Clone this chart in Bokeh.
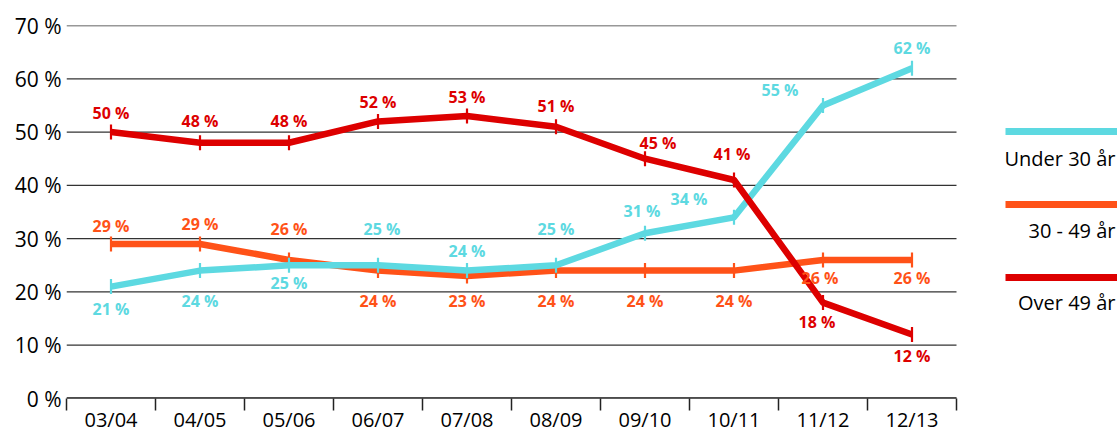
import math
from bokeh.plotting import figure
from bokeh.models import ColumnDataSource, FixedTicker, Range1d
from bokeh.core.properties import value
from bokeh.embed import file_html
from bokeh.resources import INLINE

# ---- data ----
seasons = ["03/04", "04/05", "05/06", "06/07", "07/08", "08/09", "09/10", "10/11", "11/12", "12/13"]
under30 = [21, 24, 25, 25, 24, 25, 31, 34, 55, 62]
age30_49 = [29, 29, 26, 24, 23, 24, 24, 24, 26, 26]
over49 = [50, 48, 48, 52, 53, 51, 45, 41, 18, 12]
series_names = ["Under 30 år", "30 - 49 år", "Over 49 år"]
y_ticks = [0, 10, 20, 30, 40, 50, 60, 70]
y_tick_labels = ["0 %", "10 %", "20 %", "30 %", "40 %", "50 %", "60 %", "70 %"]

# ---- style ----
C_CYAN = "#5dd9e1"
C_ORANGE = "#ff5218"
C_RED = "#dd0000"
FONT = "Open Sans"

# label offsets in screen pixels (dx, dy)
off_under = [(0, 22), (0, 30), (0, 18), (4, -36), (0, -20), (0, -36), (-3, -22), (-45, -18), (-43, -15), (0, -20)]
off_mid = [(0, -18), (0, -20), (0, -31), (0, 30), (0, 25), (0, 30), (0, 30), (0, 30), (-3, 18), (0, 18)]
off_over = [(0, -19), (0, -22), (0, -22), (0, -19), (0, -19), (0, -21), (13, -16), (-2, -26), (-6, 19), (0, 21)]

n = len(seasons)
xs = [i + 0.5 for i in range(n)]

BL, BT, BB = 66, 25, 34
FW, FH = 1117 - BL, 373
px_per_unit = 89.0
x_end = FW / px_per_unit

p = figure(frame_width=FW, frame_height=FH, output_backend="svg", toolbar_location=None,
           x_range=Range1d(0, x_end), y_range=Range1d(0, 70),
           min_border_left=BL, min_border_right=0, min_border_top=BT, min_border_bottom=BB)
p.outline_line_color = None
p.background_fill_color = "white"
p.border_fill_color = "white"
p.xgrid.visible = False
p.ygrid.visible = False

# grid lines limited to the plot area
grid_src = ColumnDataSource(dict(x0=[0] * len(y_ticks), x1=[n] * len(y_ticks), y=y_ticks))
p.segment(x0="x0", y0="y", x1="x1", y1="y", source=grid_src, line_color="#333333", line_width=1.3)
p.segment(x0=[0], y0=[0], x1=[n], y1=[0], line_color="#222222", line_width=2.4)

# x axis
p.xaxis.ticker = FixedTicker(ticks=xs, minor_ticks=list(range(n + 1)))
p.xaxis.major_label_overrides = {x: s for x, s in zip(xs, seasons)}
p.xaxis.axis_line_color = None
p.xaxis.major_tick_line_color = None
p.xaxis.major_tick_out = 0
p.xaxis.major_tick_in = 0
p.xaxis.minor_tick_out = 12
p.xaxis.minor_tick_in = 0
p.xaxis.minor_tick_line_color = "#222222"
p.xaxis.minor_tick_line_width = 1.5
p.xaxis.major_label_standoff = -5
p.xaxis.major_label_text_font = FONT
p.xaxis.major_label_text_font_size = "20px"
p.xaxis.major_label_text_color = "black"

# y axis
p.yaxis.ticker = FixedTicker(ticks=y_ticks, minor_ticks=[])
p.yaxis.major_label_overrides = {t: l for t, l in zip(y_ticks, y_tick_labels)}
p.yaxis.axis_line_color = None
p.yaxis.major_tick_line_color = None
p.yaxis.major_tick_out = 0
p.yaxis.major_tick_in = 0
p.yaxis.minor_tick_line_color = None
p.yaxis.major_label_standoff = 5
p.yaxis.major_label_text_font = FONT
p.yaxis.major_label_text_font_size = "21px"
p.yaxis.major_label_text_color = "black"

# series (orange, cyan, red on top)
for vals, color in [(age30_49, C_ORANGE), (under30, C_CYAN), (over49, C_RED)]:
    p.line(xs, vals, line_color=color, line_width=6.5, line_join="round")
    p.scatter(xs, vals, marker="dash", angle=math.pi / 2, size=15, line_color=color, line_width=2.2)

for vals, color, offs in [(age30_49, C_ORANGE, off_mid), (under30, C_CYAN, off_under), (over49, C_RED, off_over)]:
    src = ColumnDataSource(dict(x=xs, y=vals, t=[f"{v} %" for v in vals],
                                dx=[o[0] for o in offs], dy=[o[1] for o in offs]))
    p.text(x="x", y="y", text="t", source=src, x_offset="dx", y_offset="dy",
           text_align="center", text_baseline="middle", text_color=color,
           text_font=value(FONT), text_font_size="16px", text_font_style="bold")

# legend (manual): line above label, right aligned
def ypx(py):
    return (398 - py) / FH * 70

leg_x0 = (1005 - 66) / px_per_unit
leg_x1 = x_end + 1
leg_text_x = (1115 - 66) / px_per_unit
leg_line_y = [ypx(131), ypx(204), ypx(277)]
leg_text_y = [ypx(158), ypx(230), ypx(302)]
for name, color, ly, ty in zip(series_names, [C_CYAN, C_ORANGE, C_RED], leg_line_y, leg_text_y):
    p.segment(x0=[leg_x0], y0=[ly], x1=[leg_x1], y1=[ly], line_color=color, line_width=7)
    p.text(x=[leg_text_x], y=[ty], text=[name], text_align="right", text_baseline="middle",
           text_color="black", text_font=value(FONT), text_font_size="20px")

open("out.html", "w").write(file_html(p, INLINE))
